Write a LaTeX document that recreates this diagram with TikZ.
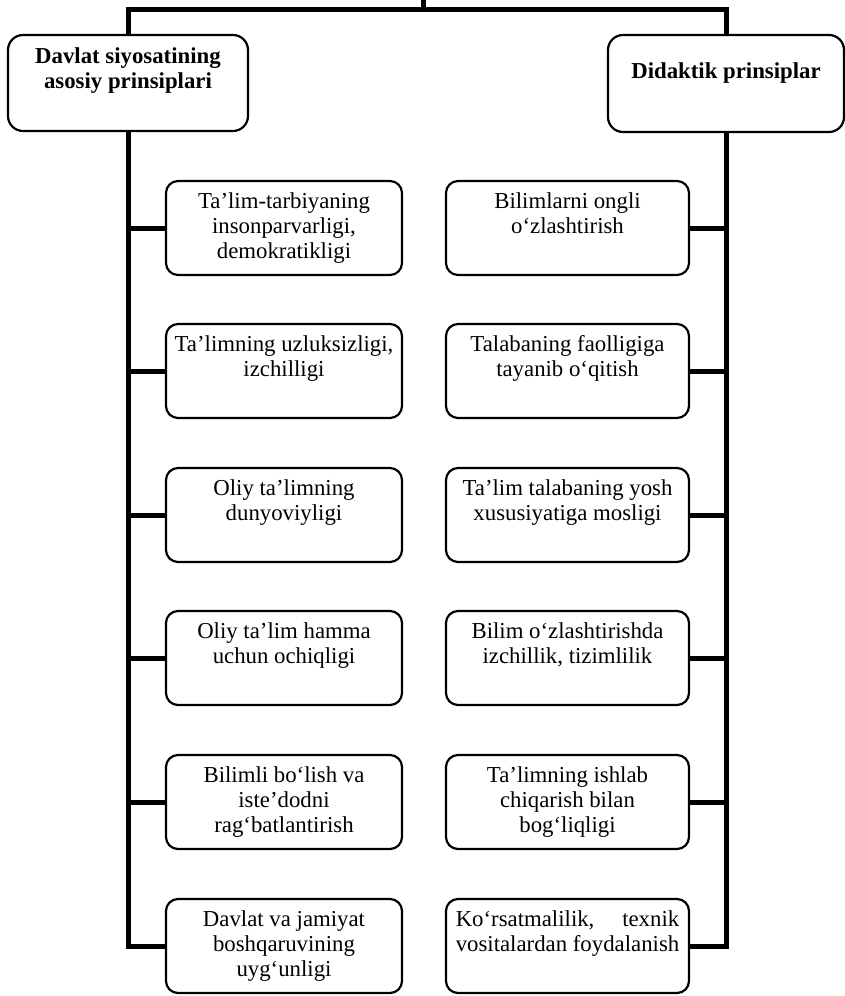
\documentclass[tikz,border=0pt]{standalone}
\usepackage{fontspec}
\setmainfont{Liberation Serif}
\newcommand{\bxt}[4]{\parbox[c][#2][t]{#1}{\centering\rule{0pt}{#3}#4\par}}
\tikzset{
  box/.style={draw, line width=2.2pt, rounded corners=12pt, inner sep=0pt, font=\fontsize{22.8}{25}\selectfont},
  head/.style={box, rounded corners=15pt, font=\fontsize{22.8}{25}\selectfont\bfseries},
  trunk/.style={line width=5pt},
}
\begin{document}
\begin{tikzpicture}[x=1pt,y=-1pt]
\useasboundingbox (0,0) rectangle (845,996);
% headers
\node[head] (lh) at (128,83) {\bxt{240pt}{96pt}{28pt}{Davlat siyosatining\\asosiy prinsiplari}};
\node[head] (rh) at (726,83.5) {\bxt{236pt}{97pt}{43pt}{Didaktik prinsiplar}};
\coordinate (top) at (423,0);
% left column
\node[box] (l1) at (284,228) {\bxt{236pt}{94pt}{27pt}{Ta’lim-tarbiyaning\\insonparvarligi,\\demokratikligi}};
\node[box] (l2) at (284,371) {\bxt{236pt}{94pt}{27pt}{Ta’limning uzluksizligi,\\izchilligi}};
\node[box] (l3) at (284,515) {\bxt{236pt}{94pt}{27pt}{Oliy ta’limning\\dunyoviyligi}};
\node[box] (l4) at (284,658) {\bxt{236pt}{94pt}{27pt}{Oliy ta’lim hamma\\uchun ochiqligi}};
\node[box] (l5) at (284,802) {\bxt{236pt}{94pt}{27pt}{Bilimli bo‘lish va\\iste’dodni\\rag‘batlantirish}};
\node[box] (l6) at (284,946) {\bxt{236pt}{94pt}{27pt}{Davlat va jamiyat\\boshqaruvining\\uyg‘unligi}};
% right column
\node[box] (r1) at (567.5,228) {\bxt{243pt}{94pt}{27pt}{Bilimlarni ongli\\o‘zlashtirish}};
\node[box] (r2) at (567.5,371) {\bxt{243pt}{94pt}{27pt}{Talabaning faolligiga\\tayanib o‘qitish}};
\node[box] (r3) at (567.5,515) {\bxt{243pt}{94pt}{27pt}{Ta’lim talabaning yosh\\xususiyatiga mosligi}};
\node[box] (r4) at (567.5,658) {\bxt{243pt}{94pt}{27pt}{Bilim o‘zlashtirishda\\izchillik, tizimlilik}};
\node[box] (r5) at (567.5,802) {\bxt{243pt}{94pt}{27pt}{Ta’limning ishlab\\chiqarish bilan\\bog‘liqligi}};
\node[box] (r6) at (567.5,946) {\bxt{243pt}{94pt}{27pt}{\setbox0\hbox{vositalardan foydalanish}\vtop{\hbox to\wd0{Ko‘rsatmalilik,\hfill texnik}\copy0}}};
% connectors
\draw[trunk] (top) -- ++(0,11);
\draw[trunk] (lh.north) -- ++(0,-24) -| (rh.north);
\draw[trunk] (lh.south) -- (lh.south |- l6.west) -- (l6.west);
\draw[trunk] (rh.south) -- (rh.south |- r6.east) -- (r6.east);
\foreach \i in {1,...,5}{
  \draw[trunk] (l\i.west) -- (lh.south |- l\i.west);
  \draw[trunk] (r\i.east) -- (rh.south |- r\i.east);
}
\end{tikzpicture}
\end{document}
